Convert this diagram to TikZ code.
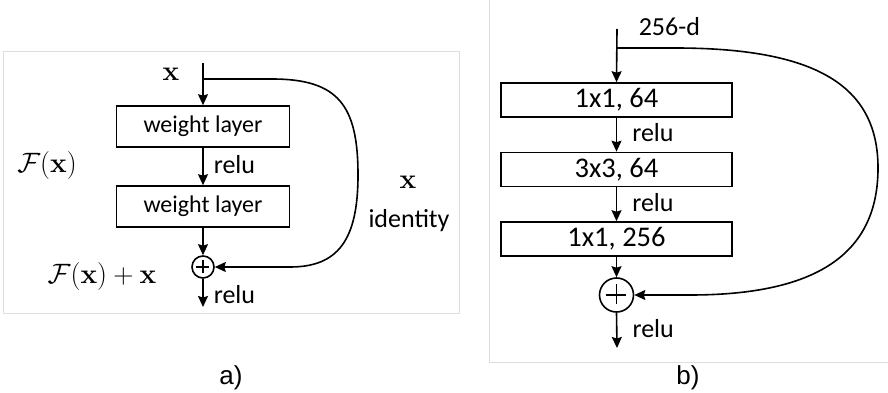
\RequirePackage{fix-cm}
\documentclass[tikz,border=0pt]{standalone}
\usepackage[no-math]{fontspec}
\setmainfont{Carlito}
\newfontfamily\labfont{Liberation Sans}
\usetikzlibrary{arrows.meta}
\begin{document}
\begin{tikzpicture}[x=1pt,y=-1pt,
  line width=1.6pt,
  arr/.style={-{Stealth[length=11pt,width=10pt,inset=1.5pt]}},
  layerbox/.style={draw,rectangle,inner sep=0pt,minimum width=173pt,minimum height=41pt,font=\fontsize{24}{27}\selectfont},
  convbox/.style={draw,rectangle,inner sep=0pt,minimum width=231pt,minimum height=34pt,font=\fontsize{28.5}{32}\selectfont},
  relulab/.style={anchor=west,inner sep=0pt,font=\fontsize{26}{30}\selectfont},
  mathlab/.style={inner sep=0pt,font=\fontsize{28}{32}\selectfont},
  sumnode/.style={draw,circle,inner sep=0pt},
  panel/.style={draw=black!13,line width=1pt},
  caplab/.style={inner sep=0pt,font=\labfont\fontsize{26}{30}\selectfont}]
\useasboundingbox (0,0) rectangle (888,393);
% ---------- panel a ----------
\draw[panel] (3.5,52) rectangle (459,313.5);
\coordinate (ain) at (203,63);
\coordinate (asplit) at (203,79);
\coordinate (aout) at (203,307);
\node[layerbox] (aw1) at (203,126.5) {weight layer};
\node[layerbox] (aw2) at (203,206.5) {weight layer};
\node[sumnode,minimum size=22pt] (asum) at (203,267) {};
\draw[line width=1.3pt] (asum.north) ++(0,4.5) -- ++(0,13) (asum.west) ++(4.5,0) -- ++(13,0);
\draw[arr] (ain) -- (aw1.north);
\draw[arr] (aw1.south) -- node[relulab,pos=0.45,xshift=10pt] (arelu1) {relu} (aw2.north);
\draw[arr] (aw2.south) -- (asum.north);
\draw[arr] (asum.south) -- node[relulab,pos=0.55,xshift=10pt] (arelu2) {relu} (aout);
\draw[arr] (asplit) -- (272,79) .. controls (338,79) and (358,105) .. (358,175)
  .. controls (358,240) and (338,267) .. (290,267) -- (asum.east);
\node[mathlab] (ax) at (171,74) {$\mathbf{x}$};
\node[mathlab] (aF) at (47,166) {$\mathcal{F}(\mathbf{x})$};
\node[mathlab] (aFx) at (102,276) {$\mathcal{F}(\mathbf{x})+\mathbf{x}$};
\node[mathlab] (ax2) at (408,182) {$\mathbf{x}$};
\node[relulab,anchor=center] (aid) at (409,221) {identity};
% ---------- panel b ----------
\draw[panel] (489,-2) -- (489,362.5) -- (890,362.5);
\coordinate (bin) at (617,29);
\coordinate (bsplit) at (617,48);
\coordinate (bout) at (617,348);
\node[convbox] (b1) at (616.5,100) {1x1, 64};
\node[convbox] (b2) at (616.5,169.5) {3x3, 64};
\node[convbox] (b3) at (616.5,239) {1x1, 256};
\node[sumnode,minimum size=34pt] (bsum) at (616.5,295) {};
\draw[line width=1.5pt] (bsum.north) ++(0,7) -- ++(0,20) (bsum.west) ++(7,0) -- ++(20,0);
\draw[arr] (bin) -- (b1.north);
\draw[arr] (b1.south) -- node[relulab,pos=0.45,xshift=15pt] (brelu1) {relu} (b2.north);
\draw[arr] (b2.south) -- node[relulab,pos=0.45,xshift=15pt] (brelu2) {relu} (b3.north);
\draw[arr] (b3.south) -- (bsum.north);
\draw[arr] (bsum.south) -- node[relulab,pos=0.45,xshift=15pt] (brelu3) {relu} (bout);
\draw[arr] (bsplit) -- (675,48) .. controls (815,48) and (878,85) .. (878,168)
  .. controls (878,255) and (815,295) .. (690,295) -- (bsum.east);
\node[relulab] (bdim) at (638,27) {256-d};
% ---------- captions ----------
\node[caplab] (capa) at (231,378) {a)};
\node[caplab] (capb) at (688,378) {b)};
\end{tikzpicture}
\end{document}
